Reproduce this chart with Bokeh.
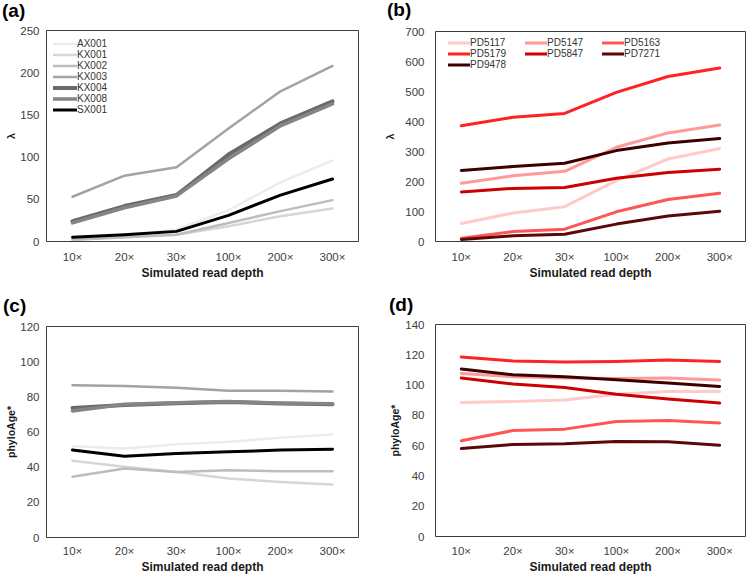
from bokeh.plotting import figure
from bokeh.layouts import column, row
from bokeh.models import Range1d, FactorRange, SingleIntervalTicker, Legend, Div
from bokeh.embed import file_html
from bokeh.resources import INLINE

# ---- shared categories ----
depths = ["10×", "20×", "30×", "100×", "200×", "300×"]

# ---- panel (a): lambda, grey series ----
a_AX001 = [3, 8, 14, 37, 70, 96]
a_KX001 = [2, 5, 8, 18, 30, 39]
a_KX002 = [2, 5, 8, 22, 36, 49]
a_KX003 = [53, 78, 88, 134, 178, 208]
a_KX004 = [24, 42, 55, 103, 140, 166]
a_KX008 = [22, 40, 54, 98, 137, 163]
a_SX001 = [5, 8, 12, 31, 55, 74]

# ---- panel (b): lambda, red series ----
b_PD5117 = [60, 95, 116, 203, 275, 310]
b_PD5147 = [194, 219, 234, 314, 362, 388]
b_PD5163 = [11, 33, 41, 99, 140, 161]
b_PD5179 = [386, 414, 427, 497, 550, 578]
b_PD5847 = [165, 177, 180, 211, 230, 241]
b_PD7271 = [7, 19, 24, 58, 85, 101]
b_PD9478 = [237, 250, 261, 303, 328, 343]

# ---- panel (c): phyloAge*, grey series ----
c_AX001 = [51.9, 50.6, 53.0, 54.4, 56.7, 58.6]
c_KX001 = [43.6, 40.2, 37.3, 33.5, 31.6, 30.1]
c_KX002 = [34.5, 39.2, 37.3, 38.3, 37.7, 37.7]
c_KX003 = [86.6, 86.2, 85.1, 83.4, 83.4, 83.0]
c_KX004 = [73.7, 75.3, 76.4, 77.0, 76.2, 75.8]
c_KX008 = [72.0, 75.8, 76.6, 77.3, 76.4, 76.0]
c_SX001 = [49.7, 46.2, 47.8, 48.7, 49.7, 50.2]

# ---- panel (d): phyloAge*, red series ----
d_PD5117 = [88.5, 89.2, 90.1, 94.0, 95.8, 95.8]
d_PD5147 = [107.7, 105.5, 104.6, 104.4, 104.6, 103.3]
d_PD5163 = [63.2, 70.0, 70.9, 76.0, 76.6, 75.0]
d_PD5179 = [118.6, 115.9, 115.3, 115.6, 116.5, 115.6]
d_PD5847 = [104.6, 100.7, 98.4, 94.0, 90.8, 88.1]
d_PD7271 = [58.1, 60.8, 61.2, 62.7, 62.5, 60.3]
d_PD9478 = [110.6, 106.8, 105.5, 103.5, 101.3, 99.1]

grey_names = ["AX001", "KX001", "KX002", "KX003", "KX004", "KX008", "SX001"]
grey_colors = ["#ececec", "#d6d6d6", "#bdbdbd", "#a3a3a3", "#6a6a6a", "#858585", "#000000"]
grey_widths = [2.5, 2.5, 2.5, 2.5, 4, 3.5, 3]

red_names = ["PD5117", "PD5147", "PD5163", "PD5179", "PD5847", "PD7271", "PD9478"]
red_colors = ["#ffcaca", "#ff9a9a", "#ff5555", "#ff2222", "#cc0000", "#5c0808", "#3c0000"]
red_widths = [3, 3, 3, 3, 3, 3, 3]

FONT = "Liberation Sans"
W, H = 374, 288
GAP = 8  # space between the tag strip and the plot frame


def make_tag(tag, frame_top, tag_x, tag_cy):
    """Thin strip above a panel carrying its (a)/(b)/... tag."""
    th = frame_top - GAP
    html = ('<div style="font-family: \'%s\'; font-size: 19px; font-weight: bold; color: #000; '
            'line-height: 20px; margin: 0; padding: %dpx 0 0 %dpx; white-space: nowrap;">%s</div>'
            % (FONT, max(tag_cy - 10, 0), tag_x, tag))
    return Div(text=html, width=W, height=th, margin=0)


def make_panel(ylabel, ymax, step, left, right, frame_top, bottom,
               ytick_standoff, ylab_standoff, xtick_standoff):
    p = figure(width=W, height=H - (frame_top - GAP), output_backend="svg", toolbar_location=None,
               x_range=FactorRange(*depths, range_padding=0), y_range=Range1d(0, ymax),
               min_border_left=left, min_border_right=right,
               min_border_top=GAP, min_border_bottom=bottom,
               background_fill_color="white", border_fill_color="white")
    p.outline_line_color = "#3c3c3c"
    p.outline_line_width = 1
    p.xgrid.visible = False
    p.ygrid.visible = False
    for ax in (p.xaxis[0], p.yaxis[0]):
        ax.axis_line_color = None
        ax.major_tick_line_color = None
        ax.minor_tick_line_color = None
        ax.major_tick_out = 0
        ax.major_tick_in = 0
        ax.minor_tick_out = 0
        ax.minor_tick_in = 0
        ax.major_label_text_font = FONT
        ax.major_label_text_font_size = "11.5px"
        ax.major_label_text_color = "#404040"
        ax.axis_label_text_font = FONT
        ax.axis_label_text_font_style = "bold"
        ax.axis_label_text_color = "#1a1a1a"
    p.yaxis.ticker = SingleIntervalTicker(interval=step)
    p.yaxis.axis_label = ylabel
    p.yaxis.axis_label_text_font_size = "10.5px"
    p.yaxis.major_label_standoff = ytick_standoff
    p.yaxis.axis_label_standoff = ylab_standoff
    p.xaxis.axis_label = "Simulated read depth"
    p.xaxis.axis_label_text_font_size = "12px"
    p.xaxis.major_label_standoff = xtick_standoff
    p.xaxis.axis_label_standoff = 0
    return p


ta = make_tag("(a)", 30, 2, 11)
tb = make_tag("(b)", 31, 13, 10)
tc = make_tag("(c)", 38, 3, 18)
td = make_tag("(d)", 36, 15, 17)

pa = make_panel("λ", 250, 50, 46, 16, 30, 47, 7, 0, 9)
pb = make_panel("λ", 700, 100, 61, 3, 31, 47, 11, 6, 9)
pc = make_panel("phyloAge*", 120, 20, 46, 16, 38, 39, 7, 0, 7)
pd = make_panel("phyloAge*", 140, 20, 61, 3, 36, 40, 11, 1, 8)

a_series = [a_AX001, a_KX001, a_KX002, a_KX003, a_KX004, a_KX008, a_SX001]
c_series = [c_AX001, c_KX001, c_KX002, c_KX003, c_KX004, c_KX008, c_SX001]
b_series = [b_PD5117, b_PD5147, b_PD5163, b_PD5179, b_PD5847, b_PD7271, b_PD9478]
d_series = [d_PD5117, d_PD5147, d_PD5163, d_PD5179, d_PD5847, d_PD7271, d_PD9478]

a_items = {}
for name, vals, col, w in zip(grey_names, a_series, grey_colors, grey_widths):
    r = pa.line(depths, vals, line_color=col, line_width=w, line_join="round", line_cap="round")
    a_items[name] = [r]
for vals, col, w in zip(c_series, grey_colors, grey_widths):
    pc.line(depths, vals, line_color=col, line_width=w, line_join="round", line_cap="round")

b_items = {}
for name, vals, col, w in zip(red_names, b_series, red_colors, red_widths):
    r = pb.line(depths, vals, line_color=col, line_width=w, line_join="round", line_cap="round")
    b_items[name] = [r]
for vals, col, w in zip(d_series, red_colors, red_widths):
    pd.line(depths, vals, line_color=col, line_width=w, line_join="round", line_cap="round")


def style_legend(leg, glyph_w):
    leg.background_fill_alpha = 0
    leg.border_line_color = None
    leg.padding = 0
    leg.margin = 0
    leg.spacing = 0
    leg.label_standoff = 0
    leg.glyph_width = glyph_w
    leg.glyph_height = 11
    leg.label_height = 11
    leg.label_text_font = FONT
    leg.label_text_font_size = "10px"
    leg.label_text_line_height = 1.0
    leg.label_text_color = "#333333"


leg_a = Legend(items=[(n, a_items[n]) for n in grey_names], location=(7, 126))
style_legend(leg_a, 24)
pa.add_layout(leg_a)

# legend for (b): two rows of three (filled column by column), then the last entry
b_rows = ["PD5117", "PD5179", "PD5147", "PD5847", "PD5163", "PD7271"]
leg_b1 = Legend(items=[(n, b_items[n]) for n in b_rows], location=(13, 182.5), ncols=3)
style_legend(leg_b1, 22)
leg_b1.label_width = 55
pb.add_layout(leg_b1)
leg_b2 = Legend(items=[("PD9478", b_items["PD9478"])], location=(13, 171.5))
style_legend(leg_b2, 22)
pb.add_layout(leg_b2)

layout = column(row(column(ta, pa), column(tb, pb)),
                row(column(tc, pc), column(td, pd)))

open("out.html", "w").write(file_html(layout, INLINE))
